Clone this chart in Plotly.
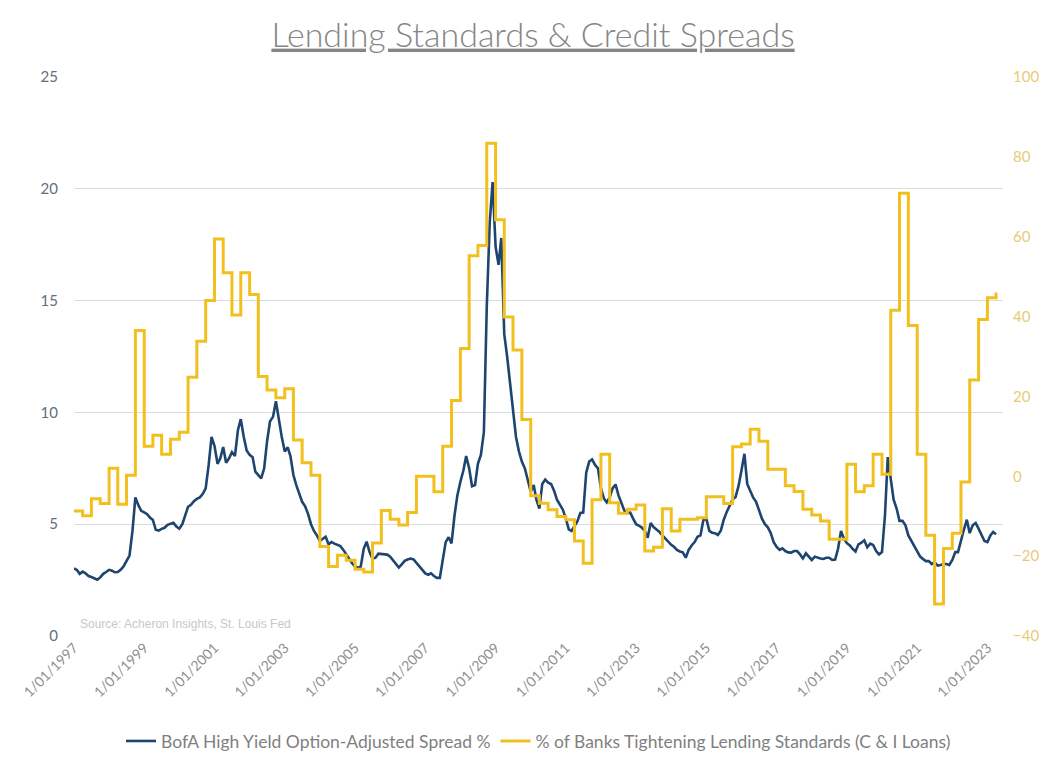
import pandas as pd
import plotly.graph_objects as go

# BofA High Yield OAS, monthly, Jan 1997 - Apr 2023
spread = [
    3.03, 2.95, 2.78, 2.88, 2.80, 2.68, 2.64, 2.58, 2.52, 2.62, 2.78, 2.86,   # 1997
    2.96, 2.92, 2.85, 2.86, 2.96, 3.12, 3.36, 3.60, 4.70, 6.20, 5.85, 5.60,   # 1998
    5.53, 5.45, 5.30, 5.19, 4.75, 4.71, 4.79, 4.84, 4.97, 5.02, 5.06, 4.90,   # 1999
    4.80, 5.00, 5.36, 5.78, 5.87, 6.03, 6.13, 6.20, 6.36, 6.60, 7.65, 8.90,   # 2000
    8.50, 7.70, 7.94, 8.45, 7.75, 7.95, 8.22, 8.05, 9.20, 9.70, 8.90, 8.30,   # 2001
    8.10, 8.00, 7.35, 7.22, 7.05, 7.50, 8.70, 9.60, 9.80, 10.50, 9.60, 8.90,  # 2002
    8.25, 8.44, 8.05, 7.20, 6.75, 6.40, 6.00, 5.80, 5.45, 5.00, 4.70, 4.50,   # 2003
    4.25, 4.35, 4.44, 4.10, 4.20, 4.13, 4.08, 4.02, 3.85, 3.65, 3.40, 3.25,   # 2004
    3.10, 3.05, 3.10, 3.90, 4.22, 3.75, 3.45, 3.50, 3.68, 3.66, 3.63, 3.64,   # 2005
    3.55, 3.38, 3.22, 3.06, 3.20, 3.36, 3.42, 3.46, 3.43, 3.28, 3.14, 2.98,   # 2006
    2.80, 2.74, 2.80, 2.68, 2.60, 2.60, 3.30, 4.20, 4.42, 4.14, 5.40, 6.30,   # 2007
    6.90, 7.40, 8.05, 7.50, 6.70, 6.75, 7.70, 8.10, 9.10, 14.70, 18.50, 20.30,  # 2008
    17.40, 16.60, 17.80, 13.50, 12.50, 11.30, 10.00, 8.90, 8.25, 7.80, 7.50, 7.00,  # 2009
    6.45, 6.75, 6.10, 5.70, 6.80, 7.00, 6.86, 6.80, 6.50, 6.10, 5.85, 5.65,   # 2010
    5.25, 4.77, 4.70, 4.92, 5.12, 5.50, 5.52, 7.30, 7.80, 7.90, 7.65, 7.50,   # 2011
    6.60, 6.15, 5.98, 6.20, 6.60, 6.78, 6.30, 5.95, 5.60, 5.50, 5.52, 5.25,   # 2012
    5.00, 4.93, 4.85, 4.70, 4.40, 5.05, 4.87, 4.76, 4.65, 4.50, 4.35, 4.20,   # 2013
    4.08, 3.98, 3.85, 3.78, 3.74, 3.50, 3.85, 4.05, 4.20, 4.44, 4.50, 5.19,   # 2014
    5.25, 4.70, 4.62, 4.60, 4.52, 4.72, 5.20, 5.55, 5.80, 6.10, 6.22, 6.70,   # 2015
    7.40, 8.15, 6.80, 6.50, 6.20, 6.00, 5.60, 5.25, 5.00, 4.86, 4.60, 4.20,   # 2016
    3.98, 3.85, 3.92, 3.80, 3.74, 3.73, 3.80, 3.80, 3.65, 3.47, 3.70, 3.55,   # 2017
    3.40, 3.55, 3.50, 3.47, 3.45, 3.50, 3.50, 3.40, 3.42, 3.90, 4.70, 4.35,   # 2018
    4.15, 4.05, 3.90, 3.78, 4.10, 4.17, 4.28, 3.97, 4.13, 4.07, 3.80, 3.65,   # 2019
    3.75, 5.40, 8.00, 7.00, 6.10, 5.70, 5.15, 5.15, 4.95, 4.50, 4.25, 4.00,   # 2020
    3.75, 3.55, 3.45, 3.35, 3.35, 3.22, 3.30, 3.15, 3.18, 3.22, 3.22, 3.18,   # 2021
    3.40, 3.75, 3.75, 4.20, 4.75, 5.20, 4.60, 4.95, 5.05, 4.80, 4.55, 4.25,   # 2022
    4.20, 4.50, 4.65, 4.55,                                                   # 2023
]

# Net % of banks tightening C&I lending standards, quarterly, 1997Q1 - 2023Q2
tightening = [
    -8.7, -9.9, -5.6, -6.8,        # 1997
    2.0, -7.0, 0.25, 36.5,         # 1998
    7.5, 10.25, 5.5, 9.25,         # 1999
    11.0, 24.8, 33.8, 44.0,        # 2000
    59.4, 51.0, 40.4, 51.0,        # 2001
    45.5, 25.0, 21.6, 19.7,        # 2002
    21.9, 9.1, 3.4, 0.25,          # 2003
    -17.6, -22.6, -19.75, -21.0,   # 2004
    -23.3, -24.0, -16.7, -8.6,     # 2005
    -10.75, -12.2, -9.1, 0.0,      # 2006
    0.0, -3.9, 7.5, 19.0,          # 2007
    32.0, 55.25, 57.8, 83.4,       # 2008
    64.25, 39.9, 31.6, 14.25,      # 2009
    -4.9, -6.75, -8.4, -10.1,      # 2010
    -10.9, -16.2, -21.75, -5.9,    # 2011
    5.5, -6.6, -9.25, -8.25,       # 2012
    -7.2, -18.7, -17.8, -8.1,      # 2013
    -13.7, -10.75, -10.75, -10.4,  # 2014
    -5.1, -5.1, -6.8, 7.4,         # 2015
    8.1, 11.75, 8.8, 1.75,         # 2016
    1.75, -2.4, -3.8, -8.25,       # 2017
    -9.7, -11.2, -15.75, -15.75,   # 2018
    3.0, -3.9, -2.4, 5.5,          # 2019
    0.5, 41.6, 70.9, 37.75,        # 2020
    5.5, -14.75, -32.0, -18.1,     # 2021
    -14.25, -1.4, 24.1, 39.25,     # 2022
    44.7, 46.0,                    # 2023
]

months = pd.date_range("1997-01-01", periods=len(spread), freq="MS")
quarters = pd.date_range("1997-01-01", periods=len(tightening), freq="QS")

BLUE = "#1e4570"
GOLD = "#f2c01e"
FONT = "Lato"

fig = go.Figure()

fig.add_trace(go.Scatter(
    x=months, y=spread,
    mode="lines",
    name="BofA High Yield Option-Adjusted Spread %",
    line=dict(color=BLUE, width=2.6),
))

fig.add_trace(go.Scatter(
    x=quarters, y=tightening,
    mode="lines",
    name="% of Banks Tightening Lending Standards (C & I Loans)",
    line=dict(color=GOLD, width=3, shape="hv"),
    yaxis="y2",
))

# the page body adds an 8px margin, so the figure is 8px smaller each way
fig.update_layout(
    width=1050, height=764,
    margin=dict(l=56, r=55, t=69, b=136),
    paper_bgcolor="white",
    plot_bgcolor="white",
    font=dict(family=FONT, color="#7f7f7f"),
    title=dict(
        text="<u>Lending Standards & Credit Spreads</u>",
        x=0.5, xanchor="center",
        y=0.965, yanchor="middle",
        font=dict(family=FONT, size=34, color="#858585", weight=300),
    ),
    xaxis=dict(
        type="date",
        range=["1997-01-01", "2023-06-12"],
        tick0="1997-01-01",
        dtick="M24",
        tickformat="%-m/%d/%Y",
        tickangle=-45,
        showgrid=False,
        showline=False,
        zeroline=False,
        ticks="",
        tickfont=dict(family=FONT, size=14, color="#909090"),
    ),
    yaxis=dict(
        range=[0, 25],
        dtick=5,
        showgrid=True,
        gridcolor="#d9dde2",
        gridwidth=1,
        zeroline=False,
        showline=False,
        ticks="outside",
        ticklen=12,
        tickcolor="rgba(0,0,0,0)",
        tickfont=dict(family=FONT, size=15, color="#5f6e7c"),
    ),
    yaxis2=dict(
        overlaying="y",
        side="right",
        range=[-40, 100],
        dtick=20,
        showgrid=False,
        zeroline=False,
        showline=False,
        ticks="outside",
        ticklen=6,
        tickcolor="rgba(0,0,0,0)",
        tickfont=dict(family=FONT, size=15, color="#e8cb78"),
    ),
    legend=dict(
        orientation="h",
        x=0.5, xanchor="center",
        y=-0.188, yanchor="middle",
        font=dict(family=FONT, size=17.5, color="#7f7f7f"),
        bgcolor="rgba(0,0,0,0)",
    ),
    annotations=[dict(
        text="Source: Acheron Insights, St. Louis Fed",
        xref="paper", yref="paper",
        x=0.004, y=0.022,
        xanchor="left", yanchor="middle",
        showarrow=False,
        font=dict(family="Liberation Sans", size=12, color="#c8c8c8"),
    )],
)

fig.write_html("out.html")
